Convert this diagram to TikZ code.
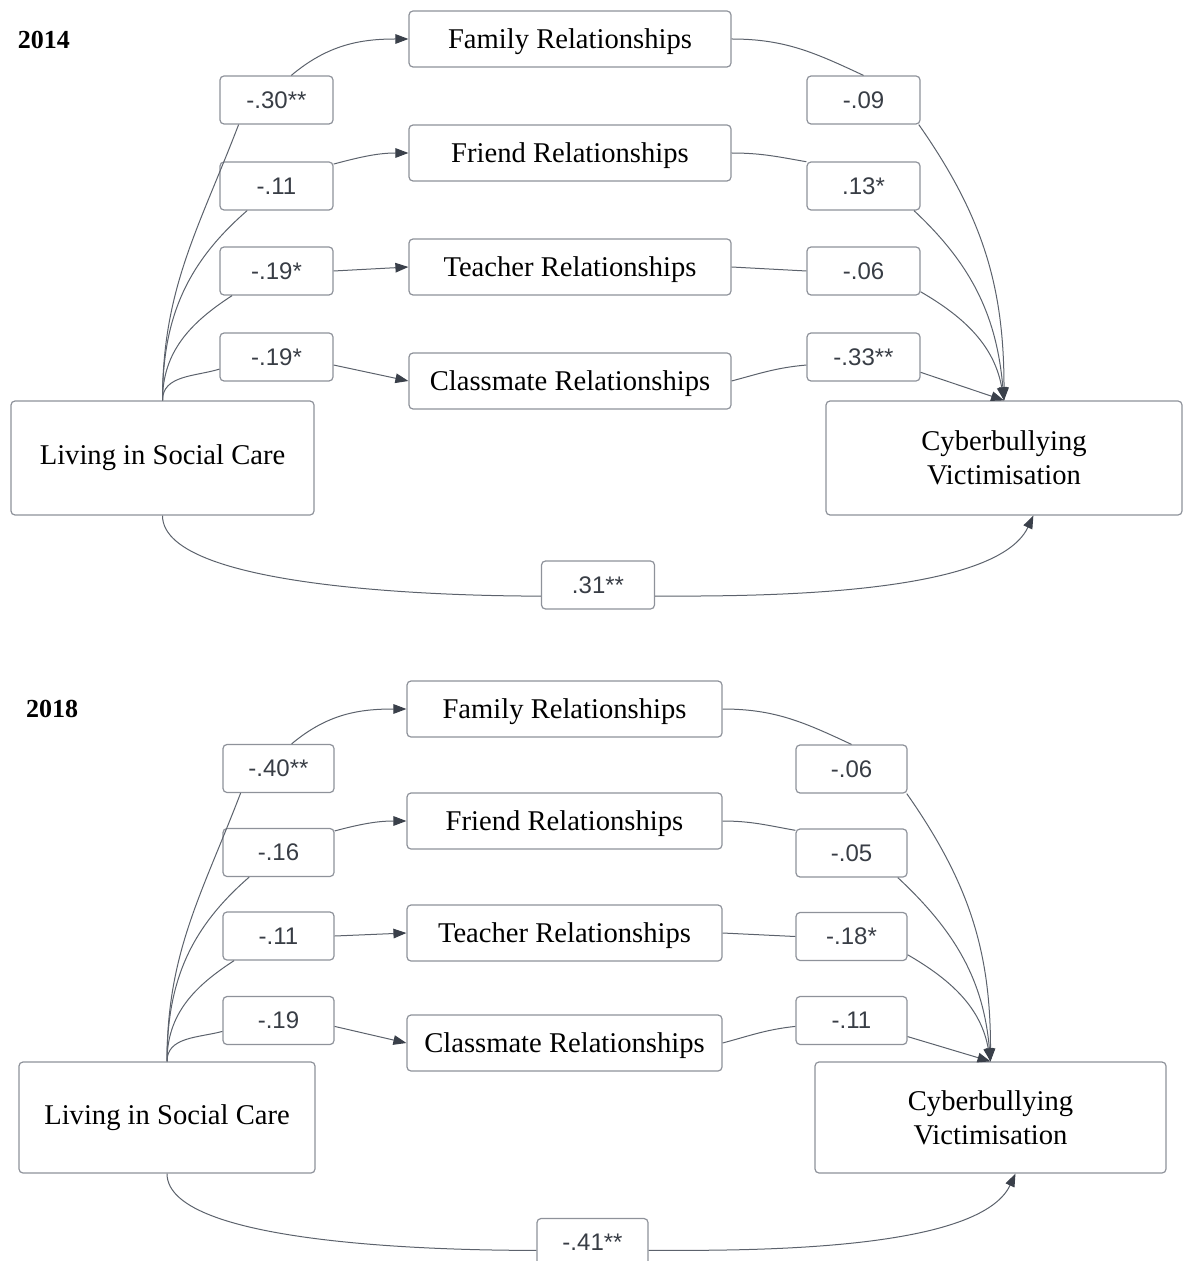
\documentclass[tikz,border=0pt]{standalone}
\usepackage{fontspec}
\setmainfont{Liberation Serif}
\setsansfont{Liberation Sans}
\usetikzlibrary{arrows.meta}
\definecolor{edgegrey}{HTML}{8E929A}
\definecolor{linegrey}{HTML}{5C626C}
\definecolor{tipgrey}{HTML}{3A404A}
\definecolor{numgrey}{HTML}{383D45}

\begin{document}
\begin{tikzpicture}[x=0.5pt, y=-0.5pt,
        box/.style={draw=edgegrey, line width=0.6pt, rounded corners=2pt, inner sep=0pt, align=center, font=\fontsize{14.3}{17}\selectfont},
        rel/.style={box, minimum width=#1, minimum height=28pt, text depth=0pt}, rel/.default=161pt,
        coef/.style={box, minimum width=#1, minimum height=24pt, text=numgrey, font=\sffamily\fontsize{12}{14}\selectfont}, coef/.default=56.5pt,
        yr/.style={font=\bfseries\fontsize{13}{15}\selectfont},
        link/.style={draw=linegrey, line width=0.5pt},
        arr/.style={link, -{Triangle[length=6.5pt, width=4.8pt, color=tipgrey]}}]
        \useasboundingbox (0, 0) rectangle (1183, 1261);

        % 2014
        \node[yr] (yrA) at (44, 40) {2014};
        \node[rel] (famA) at (570, 39) {Family Relationships};
        \node[rel] (friA) at (570, 153) {Friend Relationships};
        \node[rel] (teaA) at (570, 267) {Teacher Relationships};
        \node[rel] (claA) at (570, 381) {Classmate Relationships};
        \node[box, minimum width=151.5pt, minimum height=57pt] (livA) at (162.5, 458) {Living in Social Care};
        \node[box, minimum width=178pt, minimum height=57pt] (cybA) at (1004, 458) {Cyberbullying\\Victimisation};

        \node[coef] (lA1) at (276.5, 100) {-.30**};
        \node[coef] (lA2) at (276.5, 186) {-.11};
        \node[coef] (lA3) at (276.5, 271) {-.19*};
        \node[coef] (lA4) at (276.5, 357) {-.19*};
        \node[coef] (rA1) at (863.5, 100) {-.09};
        \node[coef] (rA2) at (863.5, 186) {.13*};
        \node[coef] (rA3) at (863.5, 271) {-.06};
        \node[coef] (rA4) at (863.5, 357) {-.33**};
        \node[coef] (dA) at (598, 585) {.31**};

        \draw[link] (livA.north) to[out=90, in=249] (lA1.213);
        \draw[arr] (lA1.59) to[out=40, in=180] (famA.west);
        \draw[link] (livA.north) to[out=90, in=221] (lA2.220);
        \draw[arr] (lA2.21) to[out=15, in=180] (friA.west);
        \draw[link] (livA.north) to[out=90, in=213] (lA3.209);
        \draw[arr] (lA3.east) -- (teaA.west);
        \draw[link] (livA.north) to[out=90, in=197] (lA4.192);
        \draw[arr] (lA4.352) -- (claA.west);

        \draw[link] (famA.east) to[out=0, in=155] (rA1.north);
        \draw[arr] (rA1.336) to[out=-55, in=90] (cybA.north);
        \draw[link] (friA.east) to[out=0, in=170] (rA2.157);
        \draw[arr] (rA2.334) to[out=-43, in=95] (cybA.north);
        \draw[link] (teaA.east) -- (rA3.west);
        \draw[arr] (rA3.340) to[out=-30, in=100] (cybA.north);
        \draw[link] (claA.east) to[out=15, in=185] (rA4.188);
        \draw[arr] (rA4.345) -- (cybA.north);

        \draw[link] (livA.south) to[out=-90, in=180, looseness=0.5] (dA.191);
        \draw[arr] (dA.349) to[out=0, in=-115, looseness=0.6] (cybA.297);

        % 2018
        \node[yr] (yrB) at (52, 709) {2018};
        \node[rel=157.5pt] (famB) at (564.5, 709) {Family Relationships};
        \node[rel=157.5pt] (friB) at (564.5, 821) {Friend Relationships};
        \node[rel=157.5pt] (teaB) at (564.5, 933) {Teacher Relationships};
        \node[rel=157.5pt] (claB) at (564.5, 1043) {Classmate Relationships};
        \node[box, minimum width=148pt, minimum height=55.5pt] (livB) at (167, 1117.5) {Living in Social Care};
        \node[box, minimum width=175.5pt, minimum height=55.5pt] (cybB) at (990.5, 1117.5) {Cyberbullying\\Victimisation};

        \node[coef=55.5pt] (lB1) at (278.5, 768.5) {-.40**};
        \node[coef=55.5pt] (lB2) at (278.5, 852.5) {-.16};
        \node[coef=55.5pt] (lB3) at (278.5, 936) {-.11};
        \node[coef=55.5pt] (lB4) at (278.5, 1020.5) {-.19};
        \node[coef=55.5pt] (rB1) at (851.5, 769) {-.06};
        \node[coef=55.5pt] (rB2) at (851.5, 853) {-.05};
        \node[coef=55.5pt] (rB3) at (851.5, 936.5) {-.18*};
        \node[coef=55.5pt] (rB4) at (851.5, 1020.5) {-.11};
        \node[coef=55.5pt] (dB) at (592.5, 1242.5) {-.41**};

        \draw[link] (livB.north) to[out=90, in=249] (lB1.213);
        \draw[arr] (lB1.62) to[out=40, in=180] (famB.west);
        \draw[link] (livB.north) to[out=90, in=221] (lB2.220);
        \draw[arr] (lB2.21) to[out=15, in=180] (friB.west);
        \draw[link] (livB.north) to[out=90, in=213] (lB3.209);
        \draw[arr] (lB3.east) -- (teaB.west);
        \draw[link] (livB.north) to[out=90, in=195] (lB4.191);
        \draw[arr] (lB4.354) -- (claB.west);

        \draw[link] (famB.east) to[out=0, in=155] (rB1.north);
        \draw[arr] (rB1.336) to[out=-55, in=90] (cybB.north);
        \draw[link] (friB.east) to[out=0, in=170] (rB2.158);
        \draw[arr] (rB2.332) to[out=-43, in=95] (cybB.north);
        \draw[link] (teaB.east) -- (rB3.west);
        \draw[arr] (rB3.342) to[out=-30, in=100] (cybB.north);
        \draw[link] (claB.east) to[out=15, in=186] (rB4.186);
        \draw[arr] (rB4.344) -- (cybB.north);

        \draw[link] (livB.south) to[out=-90, in=180, looseness=0.5] (dB.188);
        \draw[arr] (dB.352) to[out=0, in=-115, looseness=0.6] (cybB.294);
    \end{tikzpicture}
\end{document}
